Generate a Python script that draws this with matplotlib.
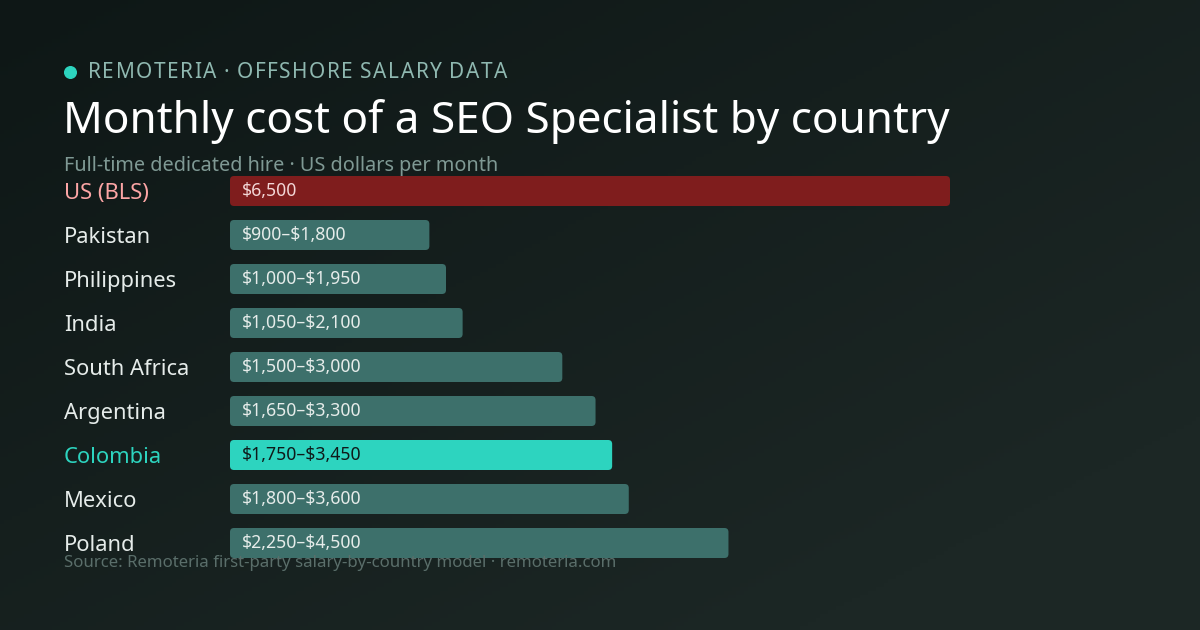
import matplotlib
matplotlib.use("Agg")
import matplotlib.pyplot as plt
import numpy as np
from matplotlib.patches import FancyBboxPatch

countries = ["US (BLS)", "Pakistan", "Philippines", "India", "South Africa", "Argentina", "Colombia", "Mexico", "Poland"]
low = [None, 900, 1000, 1050, 1500, 1650, 1750, 1800, 2250]
high = [6500, 1800, 1950, 2100, 3000, 3300, 3450, 3600, 4500]

plt.rcParams['font.family'] = ['Noto Sans', 'DejaVu Sans']
plt.rcParams['text.parse_math'] = False
fig = plt.figure(figsize=(12, 6.3), dpi=100)
bg = fig.add_axes([0, 0, 1, 1])
gx, gy = np.meshgrid(np.linspace(0, 1, 300), np.linspace(0, 1, 160))
t = np.clip((gx * 0.6 + gy * 0.6), 0, 1)
c0 = np.array([0x0e, 0x17, 0x16]) / 255
c1 = np.array([0x1c, 0x27, 0x25]) / 255
img = c0[None, None, :] * (1 - t[..., None]) + c1[None, None, :] * t[..., None]
bg.imshow(img, extent=[0, 1, 0, 1], aspect='auto', origin='upper')
bg.axis('off')

ax = fig.add_axes([0, 0, 1, 1])
ax.patch.set_alpha(0)
ax.axis('off')
ppx = 6500 / 720
ax.set_xlim(-230 * ppx, 970 * ppx)
ax.set_ylim((630 - 191) / 44, -191 / 44)

def px(x):
    return (x - 230) * ppx
def py(y):
    return (y - 191) / 44

h = 30 / 44
for i, (c, lo, hi) in enumerate(zip(countries, low, high)):
    if i == 0:
        col, lcol, tcol = "#7f1d1d", "#fca5a5", "#f3d6d6"
        txt = f"${hi:,}"
    elif c == "Colombia":
        col, lcol, tcol = "#2dd4bf", "#2dd4bf", "#0f1a19"
        txt = f"${lo:,}–${hi:,}"
    else:
        col, lcol, tcol = "#3d706b", "#e6ecea", "#e6ecea"
        txt = f"${lo:,}–${hi:,}"
    r = 4 * ppx
    p = FancyBboxPatch((0, i - h / 2), hi, h,
                       boxstyle=f"round,pad=0,rounding_size={r}",
                       mutation_aspect=(1 / 44) / ppx, fc=col, ec='none')
    ax.add_patch(p)
    ax.text(12 * ppx, i, txt, color=tcol, fontsize=12.7, va='center', ha='left')
    ax.text(px(64), i + 0.05, c, color=lcol, fontsize=15.8, va='center', ha='left')

ax.scatter([px(70)], [py(72)], s=70, color="#2dd4bf", zorder=3)

# letter-spaced header
fig.canvas.draw()
renderer = fig.canvas.get_renderer()
header = "REMOTERIA · OFFSHORE SALARY DATA"
xcur = 88.0
for ch in header:
    tt = ax.text(px(xcur), py(72), ch, color="#8fb8b0", fontsize=15, va='center', ha='left')
    w = tt.get_window_extent(renderer).width if ch != " " else 4.5
    xcur += w + 1.5

ax.text(px(63), py(122), "Monthly cost of a SEO Specialist by country", color="white", fontsize=31.7, va='center', ha='left')
ax.text(px(64), py(166), "Full-time dedicated hire · US dollars per month", color="#7f9994", fontsize=14.3, va='center', ha='left')
ax.text(px(64), py(563), "Source: Remoteria first-party salary-by-country model · remoteria.com", color="#5a6e6a", fontsize=12.1, va='center', ha='left')

fig.savefig("out.png", dpi=100)
